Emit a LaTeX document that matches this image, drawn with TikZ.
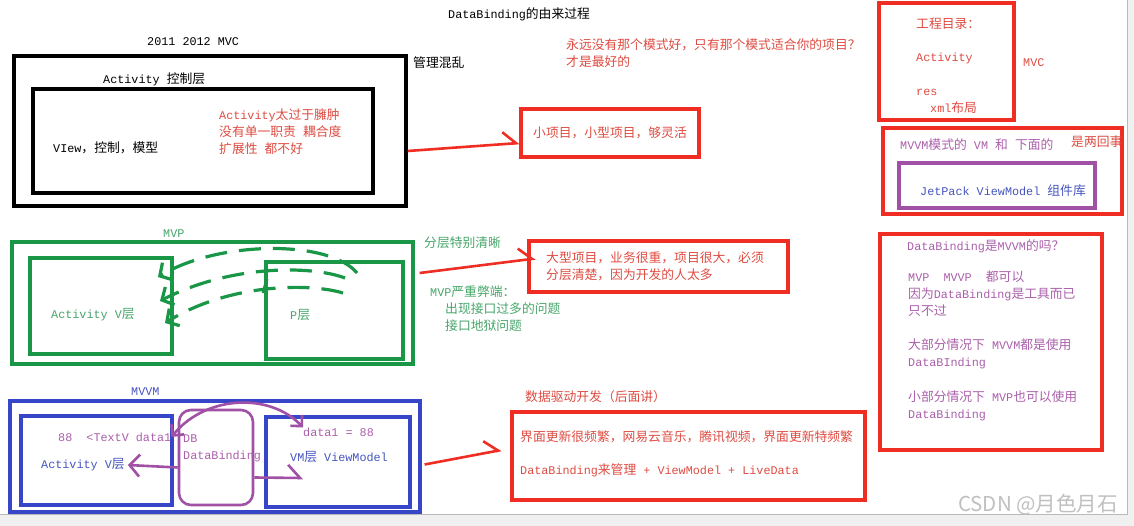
\documentclass[tikz,border=0pt]{standalone}
\usepackage{fontspec}
\setmainfont{Liberation Mono}[Scale=0.92]
\newfontfamily\latinfont{Liberation Mono}[Scale=0.92]
\newfontfamily\cjkfont{Noto Sans CJK SC}
\usetikzlibrary{arrows.meta}

% Chinese characters switch to the CJK font by themselves
\newXeTeXintercharclass\hanclass
\makeatletter
\def\sethanrange#1#2{\count@=#1\relax
  \loop\XeTeXcharclass\count@=\hanclass\relax
  \advance\count@ by 1\relax
  \ifnum\count@<#2\relax\repeat}
\makeatother
\sethanrange{"3000}{"3040}
\sethanrange{"4E00}{"A000}
\sethanrange{"FF00}{"FFF0}
\XeTeXinterchartoks 0 \hanclass = {\cjkfont}
\XeTeXinterchartoks 4095 \hanclass = {\cjkfont}
\XeTeXinterchartoks \hanclass 0 = {\latinfont}
\XeTeXinterchartoks \hanclass 4095 = {\latinfont}
\XeTeXinterchartokenstate=1

\definecolor{boxred}{RGB}{240,45,35}
\definecolor{txtred}{RGB}{222,75,65}
\definecolor{boxgreen}{RGB}{25,150,70}
\definecolor{txtgreen}{RGB}{70,165,105}
\definecolor{boxblue}{RGB}{55,70,200}
\definecolor{txtblue}{RGB}{70,85,190}
\definecolor{dbpurple}{RGB}{160,80,165}
\definecolor{txtpurple}{RGB}{170,95,170}

\tikzset{
  boxframe/.style={draw, line width=3.2pt, inner sep=0pt},
  txt/.style={anchor=west, inner sep=0pt, align=left, font=\fontsize{12.8}{17}\selectfont},
  redarrow/.style={draw=boxred, line width=2.6pt,
    -{Straight Barb[harpoon, length=13pt, width=24pt]}},
  dbarrow/.style={draw=dbpurple, line width=2.6pt},
  mvpdash/.style={draw=boxgreen, line width=3.2pt, dash pattern=on 22pt off 12pt,
    -{Straight Barb[length=9pt, width=20pt]}}
}

\begin{document}
\begin{tikzpicture}[x=1pt,y=-1pt]
    \useasboundingbox (0,0) rectangle (1134,526);
    \node[txt] (title) at (448,14) {DataBinding的由来过程};

    % MVC
    \node[txt] (mvclbl) at (147,42) {2011 2012 MVC};
    \node[boxframe, minimum width=392pt, minimum height=150pt] (mvc) at (210,131) {};
    \node[txt] (actlbl) at (103,79) {Activity 控制层};
    \node[boxframe, minimum width=340pt, minimum height=104pt] (mvcin) at (203,141) {};
    \node[txt] (vcm) at (53,148) {VIew，控制，模型};
    \node[txt, txtred] (fat) at (219,132) {Activity太过于臃肿\\没有单一职责 耦合度\\扩展性 都不好};
    \node[txt] (mess) at (413,63) {管理混乱};
    \node[txt, txtred] (motto) at (566,53.5) {永远没有那个模式好，只有那个模式适合你的项目？\\才是最好的};
    \node[boxframe, draw=boxred, minimum width=178pt, minimum height=48pt] (small) at (610,133) {};
    \node[txt, txtred] (smalltxt) at (533,133) {小项目，小型项目，够灵活};
    \draw[redarrow] ([yshift=-20pt]mvc.east) -- ([yshift=-10pt]small.west);

    % project folder
    \node[boxframe, draw=boxred, minimum width=135pt, minimum height=117pt] (proj) at (946.5,61.5) {};
    \node[txt, txtred] (projdir) at (916,24) {工程目录：};
    \node[txt, txtred] (projact) at (916,58) {Activity};
    \node[txt, txtred] (projres) at (916,92) {res};
    \node[txt, txtred] (projxml) at (930,108) {xml布局};
    \node[txt, txtred] (projmvc) at (1023,63) {MVC};

    % VM vs JetPack ViewModel
    \node[boxframe, draw=boxred, minimum width=239pt, minimum height=86pt] (vmbox) at (1002.5,171) {};
    \node[txt, txtpurple] (vmtxt) at (900,145) {MVVM模式的 VM 和 下面的};
    \node[txt, txtred] (twothings) at (1071,142) {是两回事};
    \node[boxframe, draw=dbpurple, minimum width=196pt, minimum height=45pt] (jetpack) at (997,185.5) {};
    \node[txt, txtblue] (jettxt) at (920,191) {JetPack ViewModel 组件库};

    % DataBinding question
    \node[boxframe, draw=boxred, minimum width=222pt, minimum height=216pt] (dbq) at (991,342) {};
    \node[txt, txtpurple] (q1) at (907,246) {DataBinding是MVVM的吗？};
    \node[txt, txtpurple] (q2) at (908,294) {MVP\ \ MVVP\ \ 都可以\\因为DataBinding是工具而已\\只不过};
    \node[txt, txtpurple] (q3) at (908,354) {大部分情况下 MVVM都是使用\\DataBInding};
    \node[txt, txtpurple] (q4) at (908,405.5) {小部分情况下 MVP也可以使用\\DataBinding};

    % MVP
    \node[txt, txtgreen] (mvplbl) at (163,234) {MVP};
    \node[boxframe, draw=boxgreen, minimum width=401pt, minimum height=122pt] (mvp) at (212.5,303) {};
    \node[boxframe, draw=boxgreen, minimum width=142pt, minimum height=96pt] (vbox) at (101,306) {};
    \node[boxframe, draw=boxgreen, minimum width=137pt, minimum height=97pt] (pbox) at (334.5,310.5) {};
    \node[txt, txtgreen] (vtxt) at (51,315) {Activity V层};
    \node[txt, txtgreen] (ptxt) at (290,315) {P层};
    \coordinate (p1) at (357,273);
    \coordinate (p2) at (345,278);
    \coordinate (p3) at (343,293);
    \coordinate (v1) at (158,277);
    \coordinate (v2) at (160,301);
    \coordinate (v3) at (165,323);
    \draw[mvpdash] (p1) .. controls (330,240) and (220,240) .. (v1);
    \draw[mvpdash] (p2) .. controls (310,265) and (230,265) .. (v2);
    \draw[mvpdash] (p3) .. controls (310,283) and (230,283) .. (v3);
    \draw[boxgreen, line width=3pt] (267,279) -- (263,293);
    \node[txt, txtgreen] (clear) at (424,243) {分层特别清晰};
    \node[txt, txtgreen] (flaw) at (430,308.5) {MVP严重弊端：\\\hspace*{15pt}出现接口过多的问题\\\hspace*{15pt}接口地狱问题};
    \node[boxframe, draw=boxred, minimum width=259pt, minimum height=51pt] (big) at (658.5,266.5) {};
    \node[txt, txtred] (bigtxt) at (546,266.5) {大型项目，业务很重，项目很大，必须\\分层清楚，因为开发的人太多};
    \draw[redarrow] ([xshift=5pt,yshift=30pt]mvp.east) -- ([xshift=8pt,yshift=8pt]big.west);

    % MVVM
    \node[txt, txtblue] (mvvmlbl) at (131,392) {MVVM};
    \node[boxframe, draw=boxblue, minimum width=410pt, minimum height=111pt] (mvvm) at (215,456.5) {};
    \node[boxframe, draw=boxblue, minimum width=151pt, minimum height=89pt] (vside) at (96.5,460.5) {};
    \node[boxframe, draw=boxblue, minimum width=144pt, minimum height=90pt] (vmside) at (338,462) {};
    \node[draw=dbpurple, line width=2.6pt, rounded corners=12pt, minimum width=74pt, minimum height=95pt] (db) at (216,457.5) {};
    \node[txt, txtpurple] (tv) at (58,437) {88\ \ <TextV data1};
    \node[txt, txtblue] (actv) at (41,465) {Activity V层};
    \node[txt, txtpurple] (dbtxt) at (183,448.5) {DB\\DataBinding};
    \node[txt, txtpurple] (d1) at (303,432) {data1 = 88};
    \node[txt, txtblue] (vml) at (290,457) {VM层 ViewModel};
    \coordinate (vmin) at (303,478);
    \draw[dbarrow, {Straight Barb[length=8pt, width=16pt]}-{Straight Barb[length=8pt, width=16pt]}]
        (tv.east) .. controls +(34,-42) and +(-33,-35) .. (d1.north west);
    \draw[dbarrow, -{Straight Barb[length=10pt, width=22pt]}] ([yshift=-10pt]db.west) -- ([xshift=3pt]actv.east);
    \draw[dbarrow, -{Straight Barb[harpoon, length=12pt, width=26pt]}] ([yshift=-20pt]db.east) -- (vmin);

    \node[txt, txtred] (drvlbl) at (525,397) {数据驱动开发（后面讲）};
    \node[boxframe, draw=boxred, minimum width=353pt, minimum height=88pt] (drv) at (688.5,456) {};
    \node[txt, txtred] (drv1) at (520,437) {界面更新很频繁，网易云音乐，腾讯视频，界面更新特频繁};
    \node[txt, txtred] (drv2) at (520,470) {DataBinding来管理 + ViewModel + LiveData};
    \draw[redarrow] ([xshift=3pt,yshift=-8pt]mvvm.east) -- ([xshift=-9pt,yshift=6pt]drv.west);

    % window edges
    \fill[gray!12] (0,514) rectangle (1134,526);
    \fill[gray!12] (1127,0) rectangle (1134,526);
    \draw[gray!55] (0,514) -- (1127,514) -- (1127,0);
    \node[anchor=west, inner sep=0pt, text=gray!50, font=\cjkfont\fontsize{20.5}{21}\selectfont] (mark) at (958,505) {CSDN @月色月石};
\end{tikzpicture}
\end{document}
